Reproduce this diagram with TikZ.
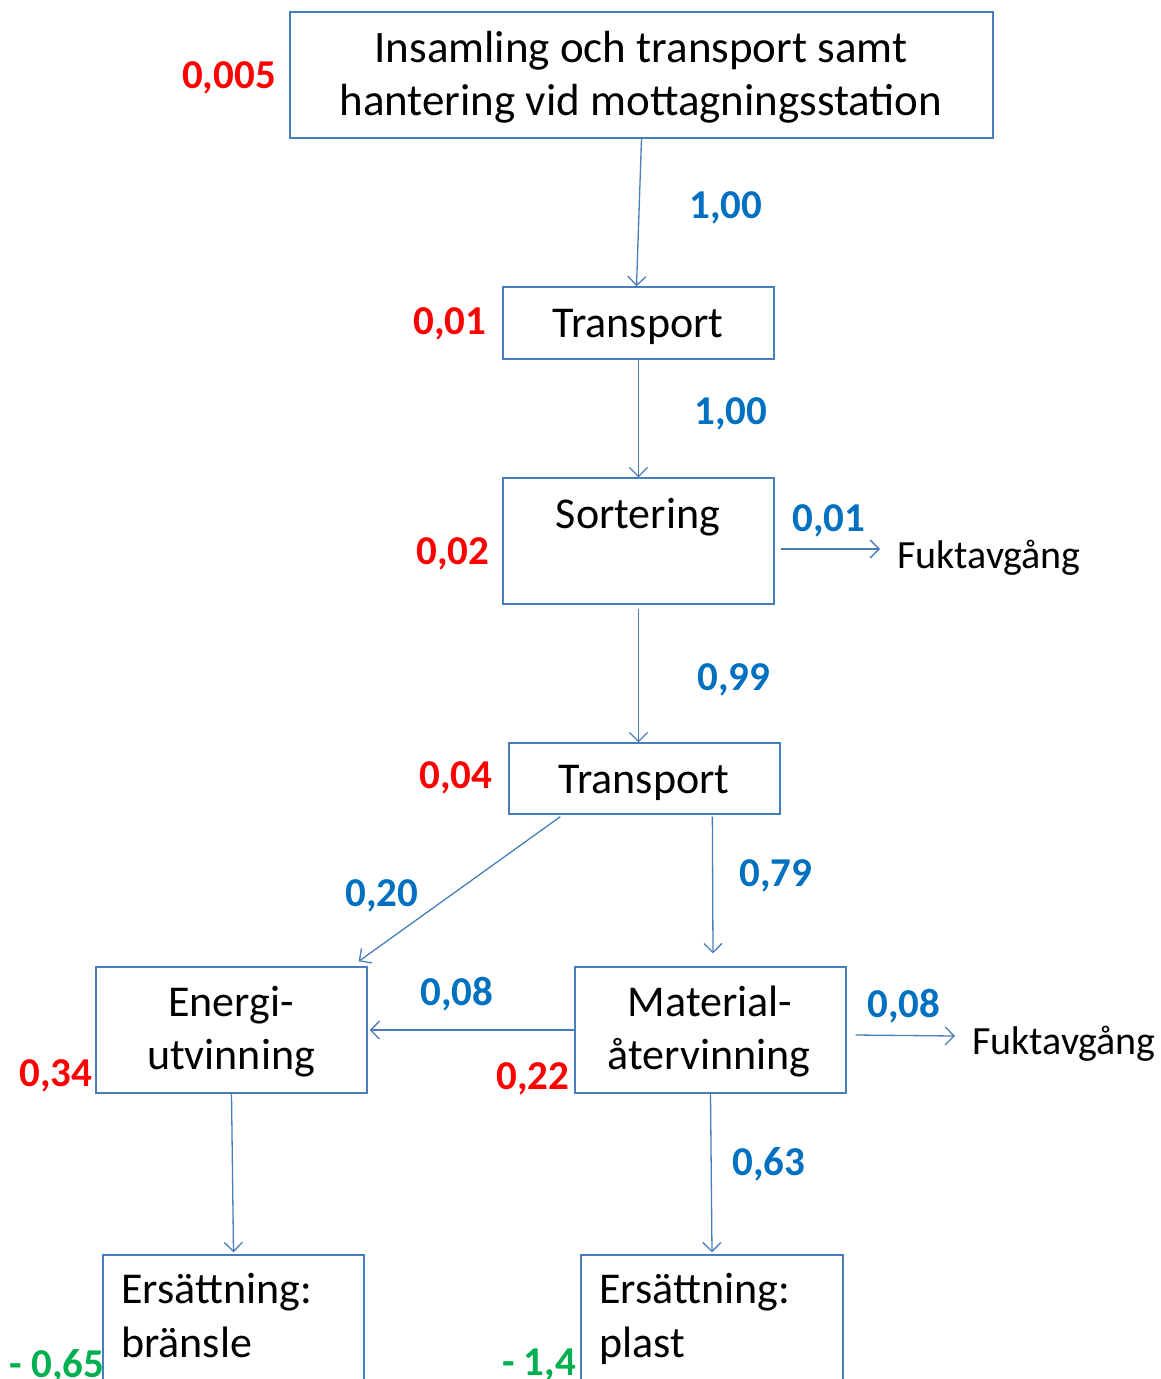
\documentclass[tikz,border=0pt]{standalone}
\usepackage{fontspec}
\setmainfont{Carlito}
\usetikzlibrary{arrows.meta}
\definecolor{lineblue}{HTML}{4A7EBB}
\definecolor{numblue}{HTML}{0070C0}
\definecolor{numred}{HTML}{FF0000}
\definecolor{numgreen}{HTML}{00B050}
\tikzset{
  box/.style={draw=lineblue, line width=1.3pt, inner sep=0pt, rectangle},
  arr/.style={draw=lineblue, line width=1.3pt, -{Straight Barb[length=9pt,width=18pt,line width=1.3pt]}},
  txt/.style={inner sep=0pt, anchor=base, font=\fontsize{45}{54}\selectfont},
  bigtxt/.style={inner sep=0pt, anchor=base, font=\fontsize{44}{52}\selectfont},
  side/.style={inner sep=0pt, anchor=base west, font=\fontsize{40}{48}\selectfont},
  flow/.style={inner sep=0pt, anchor=base, text=numblue, font=\bfseries\fontsize{41}{46}\selectfont},
  burden/.style={inner sep=0pt, anchor=base, text=numred, font=\bfseries\fontsize{41}{46}\selectfont},
  credit/.style={inner sep=0pt, anchor=base, text=numgreen, font=\bfseries\fontsize{41}{46}\selectfont},
}
\begin{document}
\begin{tikzpicture}[x=1pt,y=-1pt]
\useasboundingbox (0,0) rectangle (1160,1379);
\clip (0,0) rectangle (1160,1379);
% boxes
\node[box, minimum width=703pt, minimum height=126pt] (b1) at (641.5,75) {};
\node[box, minimum width=271pt, minimum height=72pt] (b2) at (638.5,323) {};
\node[box, minimum width=271pt, minimum height=126pt] (b3) at (638.5,541) {};
\node[box, minimum width=271pt, minimum height=71pt] (b4) at (644.5,778.5) {};
\node[box, minimum width=271pt, minimum height=126pt] (b5) at (231.5,1030) {};
\node[box, minimum width=271pt, minimum height=126pt] (b6) at (710.5,1030) {};
\node[box, minimum width=261pt, minimum height=200pt] (b7) at (233.5,1355) {};
\node[box, minimum width=262pt, minimum height=200pt] (b8) at (712,1355) {};
% box texts
\node[txt] (t1a) at (641,62) {Insamling och transport samt};
\node[txt] (t1b) at (641,115) {hantering vid mottagningsstation};
\node[bigtxt] (t2) at (638,337) {Transport};
\node[bigtxt] (t3) at (638,528) {Sortering};
\node[bigtxt] (t4) at (644,793) {Transport};
\node[bigtxt] (t5a) at (231,1016) {Energi-};
\node[bigtxt] (t5b) at (231,1069) {utvinning};
\node[bigtxt] (t6a) at (710,1016) {Material-};
\node[bigtxt] (t6b) at (709,1069) {återvinning};
\node[bigtxt, anchor=base west] (t7a) at (121,1303) {Ersättning:};
\node[bigtxt, anchor=base west] (t7b) at (121,1357) {bränsle};
\node[bigtxt, anchor=base west] (t8a) at (599,1303) {Ersättning:};
\node[bigtxt, anchor=base west] (t8b) at (599,1357) {plast};
% side outputs
\node[side] (fk1) at (897,568) {Fuktavgång};
\node[side] (fk2) at (972,1054) {Fuktavgång};
\coordinate (fk1in) at (880,549);
\coordinate (fk2in) at (955,1036);
% connectors
\draw[arr] (b1.south) -- ([xshift=-2pt]b2.north);
\draw[arr] (b2.south) -- (b3.north);
\draw[arr] ([yshift=-4pt]b3.south) -- ([xshift=-6pt]b4.north);
\draw[arr] ([xshift=52pt,yshift=-2pt]b4.south west) -- ([xshift=-9pt,yshift=5pt]b5.north east);
\draw[arr] ([xshift=204pt,yshift=-2pt]b4.south west) -- ([xshift=2.5pt,yshift=13pt]b6.north);
\draw[arr] (b6.west) -- ([xshift=2pt]b5.east);
\draw[arr] ([xshift=6pt,yshift=-8pt]b3.east) -- (fk1in);
\draw[arr] ([xshift=9pt,yshift=-5pt]b6.east) -- (fk2in);
\draw[arr] (b5.south) -- ([yshift=2pt]b7.north);
\draw[arr] (b6.south) -- ([yshift=2pt]b8.north);
% flow labels
\node[flow] (f1) at (726,218) {1,00};
\node[flow] (f2) at (731,424) {1,00};
\node[flow] (f3) at (829,531) {0,01};
\node[flow] (f4) at (734,690) {0,99};
\node[flow] (f5) at (382,906) {0,20};
\node[flow] (f6) at (776,886) {0,79};
\node[flow] (f7) at (457,1005) {0,08};
\node[flow] (f8) at (904,1017) {0,08};
\node[flow] (f9) at (769,1175) {0,63};
% burden labels
\node[burden] (r1) at (229,88) {0,005};
\node[burden] (r2) at (450,334) {0,01};
\node[burden] (r3) at (453,564) {0,02};
\node[burden] (r4) at (456,788) {0,04};
\node[burden] (r5) at (56,1086) {0,34};
\node[burden] (r6) at (533,1089) {0,22};
% credits
\node[credit] (g1) at (57,1377) {- 0,65};
\node[credit] (g2) at (539,1375) {- 1,4};
\end{tikzpicture}
\end{document}
